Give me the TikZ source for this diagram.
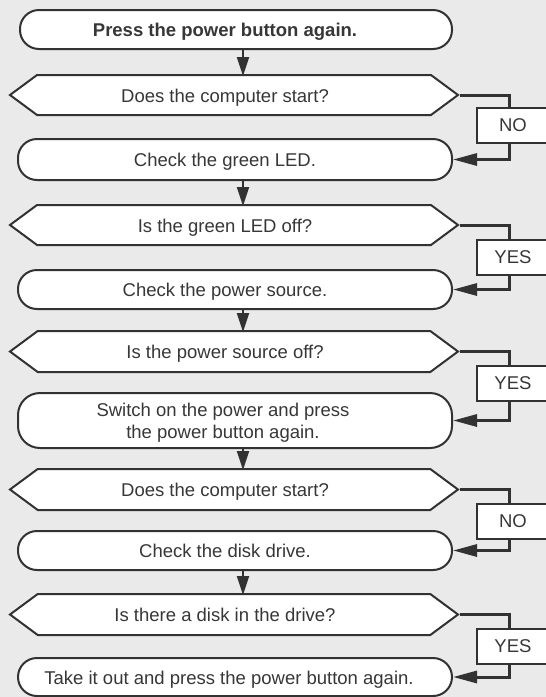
\documentclass[tikz,border=0pt]{standalone}
\usepackage{fontspec}
\setmainfont{Liberation Sans}
\usetikzlibrary{arrows.meta,shapes.symbols}
\definecolor{bg}{RGB}{234,234,234}
\definecolor{ink}{RGB}{50,50,50}
\definecolor{txt}{RGB}{55,55,55}
\begin{document}
\begin{tikzpicture}[x=1pt,y=-1pt,
  term/.style={draw=ink, line width=2pt, fill=white, rounded corners=19pt, inner sep=0pt, minimum width=434pt},
  dec/.style={signal, signal to=west and east, signal pointer angle=73, draw=ink, line width=2pt, fill=white, inner sep=0pt, minimum width=448pt, minimum height=40pt},
  lbl/.style={draw=ink, line width=2pt, fill=white, minimum width=72pt, minimum height=35pt, inner sep=0pt, text=txt, font=\fontsize{18.5}{22}\selectfont},
  txtnode/.style={text=txt, font=\fontsize{18.5}{22}\selectfont, inner sep=0pt, align=center, anchor=base},
  down/.style={draw=ink, line width=2.2pt, -{Triangle[length=19pt,width=12pt]}},
  conn/.style={draw=ink, line width=3pt, line join=miter},
  back/.style={draw=ink, line width=3pt, line join=miter, -{Triangle[length=24pt,width=12pt]}}
]
\useasboundingbox (0,0) rectangle (546,697);
\fill[bg] (0,0) rectangle (546,697);
\clip (0,0) rectangle (546,697);
\coordinate (ax) at (243,0);
\coordinate (rx) at (509,0);

% shapes
\node[term, minimum height=39pt, minimum width=432pt] (t1) at (236,29.5) {};
\node[dec] (d1) at (234,95) {};
\node[term, minimum height=41pt] (t2) at (235,159.5) {};
\node[dec] (d2) at (234,225) {};
\node[term, minimum height=39pt] (t3) at (235,289.5) {};
\node[dec, minimum height=41pt] (d3) at (234,351.5) {};
\node[term, minimum height=55pt, rounded corners=22pt] (t4) at (235,420.5) {};
\node[dec, minimum height=41pt] (d4) at (234,489.5) {};
\node[term, minimum height=39pt] (t5) at (235,550.5) {};
\node[dec, minimum height=41pt] (d5) at (234,614.5) {};
\node[term, minimum height=38pt] (t6) at (235,677) {};

% texts
\node[txtnode, font=\fontsize{18.5}{22}\selectfont\bfseries] (t1x) at (225,36) {Press the power button again.};
\node[txtnode] (d1x) at (225,102) {Does the computer start?};
\node[txtnode] (t2x) at (225,166.5) {Check the green LED.};
\node[txtnode] (d2x) at (225,232) {Is the green LED off?};
\node[txtnode] (t3x) at (225,296.5) {Check the power source.};
\node[txtnode] (d3x) at (225,358.5) {Is the power source off?};
\node[txtnode] (t4x) at (223,438) {Switch on the power and press\\[0pt] the power button again.};
\node[txtnode] (d4x) at (225,496.5) {Does the computer start?};
\node[txtnode] (t5x) at (225,557.5) {Check the disk drive.};
\node[txtnode] (d5x) at (225,621.5) {Is there a disk in the drive?};
\node[txtnode] (t6x) at (229,684) {Take it out and press the power button again.};

% vertical arrows
\draw[down] (t1.south -| ax) -- ([yshift=-2pt]d1.north -| ax);
\draw[down] (t2.south -| ax) -- ([yshift=-2pt]d2.north -| ax);
\draw[down] (t3.south -| ax) -- ([yshift=-2pt]d3.north -| ax);
\draw[down] (t4.south -| ax) -- ([yshift=-2pt]d4.north -| ax);
\draw[down] (t5.south -| ax) -- ([yshift=-2pt]d5.north -| ax);

% right branches
\node[lbl] (l1) at (513,125.5) {NO};
\node[lbl] (l2) at (513,257.5) {YES};
\node[lbl] (l3) at (513,383.5) {YES};
\node[lbl] (l4) at (513,521.5) {NO};
\node[lbl] (l5) at (513,646.5) {YES};

\draw[conn] (d1.east) -| (l1.north -| rx);
\draw[back] (l1.south -| rx) |- (t2.east);
\draw[conn] (d2.east) -| (l2.north -| rx);
\draw[back] (l2.south -| rx) |- (t3.east);
\draw[conn] (d3.east) -| (l3.north -| rx);
\draw[back] (l3.south -| rx) |- (t4.east);
\draw[conn] (d4.east) -| (l4.north -| rx);
\draw[back] (l4.south -| rx) |- (t5.east);
\draw[conn] (d5.east) -| (l5.north -| rx);
\draw[back] (l5.south -| rx) |- (t6.east);
\end{tikzpicture}
\end{document}
